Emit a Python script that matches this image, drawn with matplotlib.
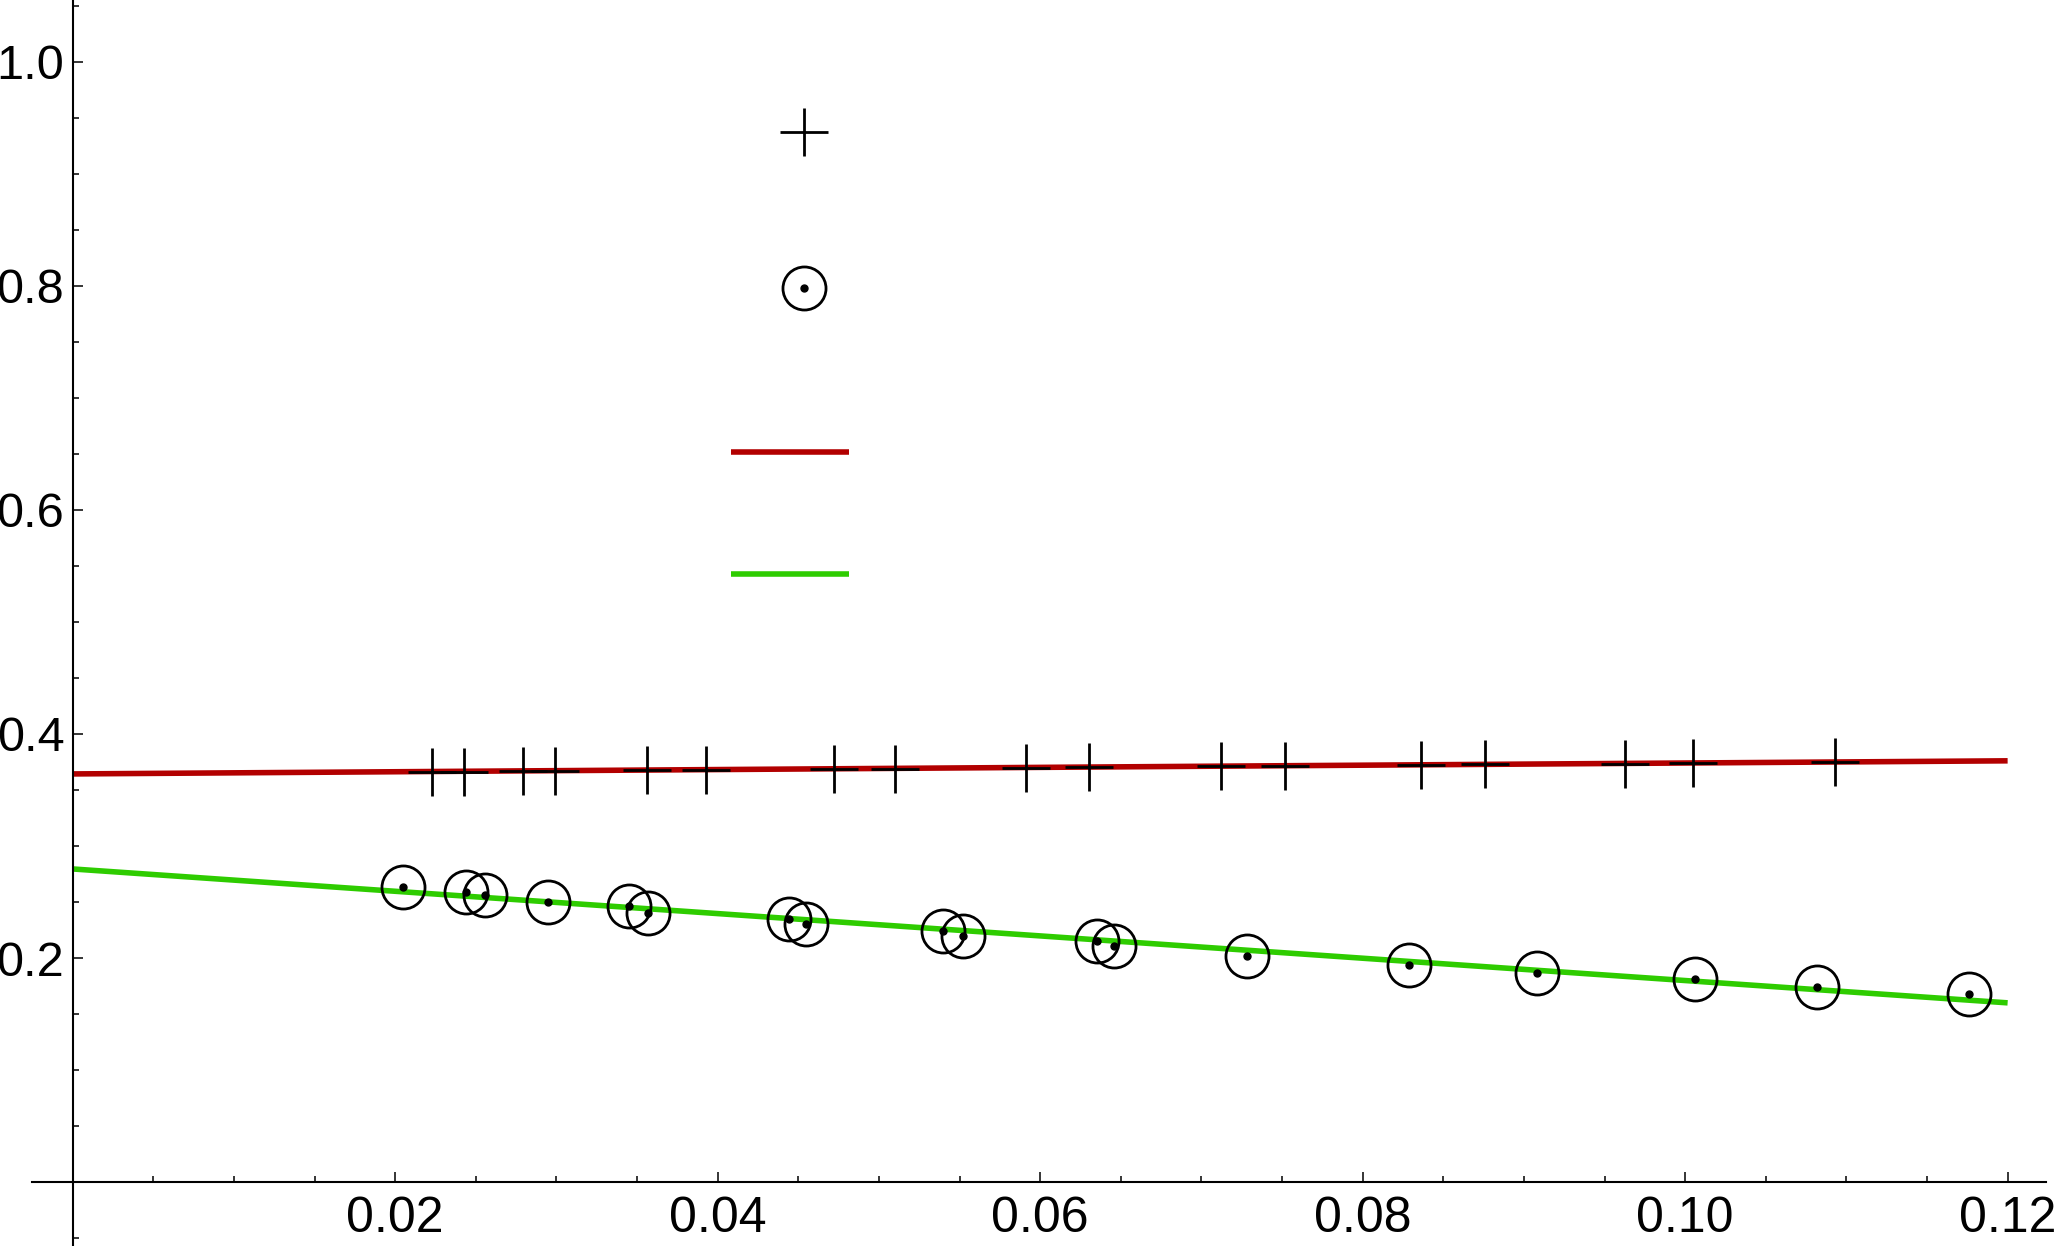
import matplotlib
matplotlib.use("Agg")
import matplotlib.pyplot as plt
from matplotlib.ticker import FixedLocator, FormatStrFormatter

plt.rcParams['font.family'] = ['Liberation Sans', 'DejaVu Sans']

# measured points, "+" series
cross_x = [0.0223, 0.0243, 0.0279, 0.0299, 0.0356, 0.0393, 0.0472, 0.0510, 0.0591,
           0.0630, 0.0712, 0.0752, 0.0836, 0.0876, 0.0963, 0.1005, 0.1093]
cross_y = [0.3662, 0.3664, 0.3668, 0.3670, 0.3676, 0.3679, 0.3687, 0.3691, 0.3699,
           0.3703, 0.3711, 0.3715, 0.3724, 0.3728, 0.3736, 0.3740, 0.3749]

# measured points, circled-dot series
circ_x = [0.0205, 0.0244, 0.0256, 0.0295, 0.0345, 0.0357, 0.0444, 0.0455, 0.0540,
          0.0552, 0.0635, 0.0646, 0.0728, 0.0829, 0.0908, 0.1006, 0.1082, 0.1176]
circ_y = [0.263, 0.259, 0.256, 0.250, 0.246, 0.240, 0.2345, 0.230, 0.224,
          0.220, 0.215, 0.211, 0.202, 0.194, 0.187, 0.181, 0.174, 0.168]

# fitted lines (end points)
fit_x = [0.0, 0.12]
red_fit = [0.3643, 0.3760]
green_fit = [0.2795, 0.1600]

RED = '#B20000'
GREEN = '#2ECC00'

fig = plt.figure(figsize=(20.54, 12.46), dpi=100)
ax = fig.add_axes([32 / 2054, 0, 2014 / 2054, 1])

red_line, = ax.plot(fit_x, red_fit, color=RED, lw=4, solid_capstyle='butt', zorder=2)
green_line, = ax.plot(fit_x, green_fit, color=GREEN, lw=4, solid_capstyle='butt', zorder=2)

plus, = ax.plot(cross_x, cross_y, ls='none', marker='+', ms=34, mew=2.0, color='k', zorder=3)
ring, = ax.plot(circ_x, circ_y, ls='none', marker='o', ms=31, mew=2.0, mfc='none',
                mec='k', zorder=3)
dot, = ax.plot(circ_x, circ_y, ls='none', marker='o', ms=5, color='k', zorder=4)

ax.set_xlim(-0.00252, 0.12238)
ax.set_ylim(-0.057, 1.055)

for s in ['top', 'right']:
    ax.spines[s].set_visible(False)
ax.spines['left'].set_position(('data', 0))
ax.spines['bottom'].set_position(('data', 0))
for s in ['left', 'bottom']:
    ax.spines[s].set_linewidth(1.5)

ax.xaxis.set_major_locator(FixedLocator([0.02, 0.04, 0.06, 0.08, 0.10, 0.12]))
ax.xaxis.set_minor_locator(FixedLocator([i * 0.005 for i in range(1, 25) if i % 4]))
ax.yaxis.set_major_locator(FixedLocator([0.2, 0.4, 0.6, 0.8, 1.0]))
ax.yaxis.set_minor_locator(FixedLocator([i * 0.05 for i in range(-1, 22) if i % 4 and i != 0]))
ax.xaxis.set_major_formatter(FormatStrFormatter('%.2f'))
ax.yaxis.set_major_formatter(FormatStrFormatter('%.1f'))

ax.tick_params(which='both', direction='in', width=1.1, color='k')
ax.tick_params(which='major', length=7.2)
ax.tick_params(which='minor', length=4.3)
ax.tick_params(axis='x', pad=10, labelsize=36)
ax.tick_params(axis='y', pad=6, labelsize=35)

# legend without text, markers and lines in two stacks
leg1 = ax.legend([plus, (ring, dot)], ['', ''], loc='center', bbox_to_anchor=(0.3833, 0.8002),
                 frameon=False, fontsize=10, handletextpad=0, borderpad=0,
                 handlelength=3, handleheight=16.9, labelspacing=0)
ax.add_artist(leg1)
ax.legend([red_line, green_line], ['', ''], loc='center', bbox_to_anchor=(0.3764, 0.564),
          frameon=False, fontsize=10, handletextpad=0, borderpad=0,
          handlelength=8.5, handleheight=13.2, labelspacing=0)

fig.savefig('out.png', dpi=100, facecolor='white')
